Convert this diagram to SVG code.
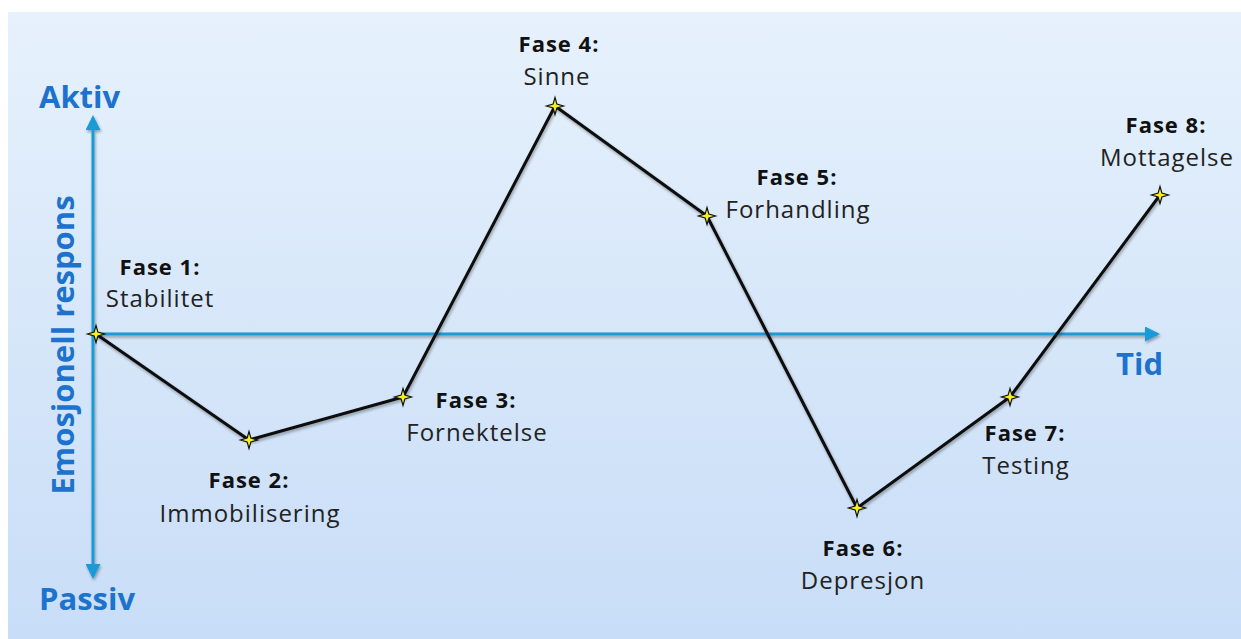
<svg xmlns="http://www.w3.org/2000/svg" width="1241" height="639" viewBox="0 0 1241 639">
<defs>
<linearGradient id="bg" x1="0" y1="0" x2="0" y2="1">
<stop offset="0" stop-color="#e6f1fc"/>
<stop offset="1" stop-color="#c8ddf7"/>
</linearGradient>
<filter id="sh" x="-5%" y="-5%" width="110%" height="110%">
<feGaussianBlur in="SourceAlpha" stdDeviation="1.5"/>
<feOffset dx="1" dy="2"/>
<feComponentTransfer><feFuncA type="linear" slope="0.35"/></feComponentTransfer>
<feMerge><feMergeNode/><feMergeNode in="SourceGraphic"/></feMerge>
</filter>
<marker id="ah" viewBox="0 0 10 10" refX="8" refY="5" markerWidth="5" markerHeight="5" orient="auto" markerUnits="strokeWidth">
<path d="M0,0 L10,5 L0,10 Z" fill="#1a9ad6"/>
</marker>
<path id="star" d="M0,-8.5 L1.9,-1.9 L8.5,0 L1.9,1.9 L0,8.5 L-1.9,1.9 L-8.5,0 L-1.9,-1.9 Z"/>
</defs>
<style>
.ax{stroke:#1a9ad6;stroke-width:3;fill:none}
.axl{font-family:"Open Sans","Liberation Sans",sans-serif;font-weight:bold;font-size:31px;fill:#1c72cc}
.ph{font-family:"Open Sans","Liberation Sans",sans-serif;font-weight:bold;font-size:22px;letter-spacing:1px;fill:#111;text-anchor:middle}
.nm{font-family:"Open Sans","Liberation Sans",sans-serif;font-size:24px;letter-spacing:1px;fill:#222;text-anchor:middle}
.ln{stroke:#111;stroke-width:3;fill:none;stroke-linejoin:round}
.st{fill:#f5f020;stroke:#111;stroke-width:1.2}
</style>
<rect x="8" y="12" width="1233" height="627" fill="url(#bg)"/>
<g id="axes" filter="url(#sh)">
<line class="ax" x1="93" y1="334" x2="93" y2="118" marker-end="url(#ah)"/>
<line class="ax" x1="93" y1="334" x2="93" y2="576" marker-end="url(#ah)"/>
<line class="ax" x1="93" y1="334" x2="1157" y2="334" marker-end="url(#ah)"/>
</g>
<g id="axis-labels">
<text class="axl" x="39" y="108">Aktiv</text>
<text class="axl" x="39" y="610">Passiv</text>
<text class="axl" x="1116" y="375">Tid</text>
<text class="axl" transform="translate(74,345) rotate(-90)" text-anchor="middle">Emosjonell respons</text>
</g>
<g id="connectors" filter="url(#sh)">
<polyline class="ln" points="96,334 249,440 403,397 555,106 707,216 857,508 1010,397 1160,195"/>
</g>
<g id="fase1"><use href="#star" class="st" x="96" y="334"/><text class="ph" x="160" y="275">Fase 1:</text><text class="nm" x="160" y="307">Stabilitet</text></g>
<g id="fase2"><use href="#star" class="st" x="249" y="440"/><text class="ph" x="249" y="488">Fase 2:</text><text class="nm" x="250" y="522">Immobilisering</text></g>
<g id="fase3"><use href="#star" class="st" x="403" y="397"/><text class="ph" x="476" y="408">Fase 3:</text><text class="nm" x="477" y="441">Fornektelse</text></g>
<g id="fase4"><use href="#star" class="st" x="555" y="106"/><text class="ph" x="559" y="52">Fase 4:</text><text class="nm" x="557" y="85">Sinne</text></g>
<g id="fase5"><use href="#star" class="st" x="707" y="216"/><text class="ph" x="797" y="185">Fase 5:</text><text class="nm" x="798" y="218">Forhandling</text></g>
<g id="fase6"><use href="#star" class="st" x="857" y="508"/><text class="ph" x="863" y="556">Fase 6:</text><text class="nm" x="863" y="589">Depresjon</text></g>
<g id="fase7"><use href="#star" class="st" x="1010" y="397"/><text class="ph" x="1025" y="441">Fase 7:</text><text class="nm" x="1026" y="474">Testing</text></g>
<g id="fase8"><use href="#star" class="st" x="1160" y="195"/><text class="ph" x="1166" y="133">Fase 8:</text><text class="nm" x="1167" y="166">Mottagelse</text></g>
</svg>
